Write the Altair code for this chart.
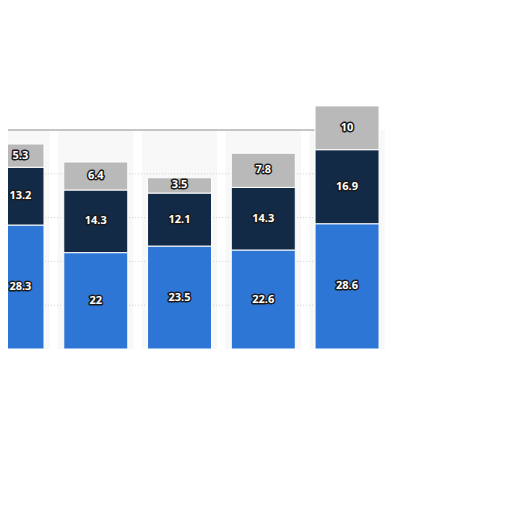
import altair as alt
import pandas as pd

categories = ["1", "2", "3", "4", "5"]
series = ["Series 1", "Series 2", "Series 3"]
s1 = [28.3, 22, 23.5, 22.6, 28.6]
s2 = [13.2, 14.3, 12.1, 14.3, 16.9]
s3 = [5.3, 6.4, 3.5, 7.8, 10]
colors = ["#2e76d6", "#122a45", "#b9b9b9"]
grid_values = [10, 20, 30, 40]
frame_value = 50

rows = []
for i, c in enumerate(categories):
    for k, (name, vals) in enumerate(zip(series, [s1, s2, s3])):
        rows.append({"cat": c, "idx": i, "series": name, "order": k, "value": vals[i]})
df = pd.DataFrame(rows)
cat_df = pd.DataFrame({"cat": categories, "idx": list(range(len(categories))),
                       "top": [frame_value] * len(categories)})

W, H = 496, 341
n = len(categories)
xscale = alt.Scale(domain=[-0.048, 5.874], nice=False, zero=False)
yscale = alt.Scale(domain=[0, 77.85], nice=False, zero=True)

base = (
    alt.Chart(df)
    .transform_stack(stack="value", groupby=["idx"], as_=["y0", "y1"],
                     sort=[alt.SortField("order", order="ascending")])
    .transform_calculate(xa="datum.idx - 0.382", xb="datum.idx + 0.382",
                         ym="(datum.y0 + datum.y1) / 2",
                         lx="max(datum.idx, 0.1)")
)

columns = alt.Chart(cat_df).transform_calculate(
    xa="datum.idx - 0.45", xb="datum.idx + 0.45"
).mark_rect(color="#f8f8f8", clip=True).encode(
    x=alt.X("xa:Q", scale=xscale, axis=None),
    x2="xb:Q",
    y=alt.Y("top:Q", scale=yscale, axis=None),
    y2=alt.datum(0),
)

bars = base.mark_bar(clip=True, stroke="white", strokeWidth=1).encode(
    x=alt.X("xa:Q", scale=xscale, axis=None),
    x2="xb:Q",
    y=alt.Y("y0:Q", scale=yscale, axis=None),
    y2="y1:Q",
    color=alt.Color("series:N", scale=alt.Scale(domain=series, range=colors), legend=None),
)

lab_enc = dict(
    x=alt.X("lx:Q", scale=xscale, axis=None),
    y=alt.Y("ym:Q", scale=yscale, axis=None),
    text=alt.Text("value:Q"),
)
labels_bg = base.mark_text(font="Open Sans", fontSize=11, fontWeight="bold",
                           stroke="#1a1a1a", strokeWidth=3, strokeJoin="round",
                           color="#1a1a1a").encode(**lab_enc)
labels_fg = base.mark_text(font="Open Sans", fontSize=11, fontWeight="bold",
                           color="white").encode(**lab_enc)

grid = alt.Chart(pd.DataFrame({"v": grid_values, "a": [-0.5] * len(grid_values),
                               "b": [n - 1 + 0.382] * len(grid_values)})).mark_rule(
    color="#cfcfcf", strokeDash=[1, 2], strokeWidth=1, clip=True
).encode(
    y=alt.Y("v:Q", scale=yscale, axis=None),
    x=alt.X("a:Q", scale=xscale, axis=None),
    x2="b:Q",
)

frame = alt.Chart(pd.DataFrame({"v": [frame_value], "a": [-0.5], "b": [n - 1 - 0.382]})).mark_rule(
    color="#b3b3b3", strokeWidth=1.5, clip=True
).encode(
    y=alt.Y("v:Q", scale=yscale, axis=None),
    x=alt.X("a:Q", scale=xscale, axis=None),
    x2="b:Q",
)

chart = (
    alt.layer(columns, grid, frame, bars, labels_bg, labels_fg)
    .properties(width=W, height=H, padding=0, autosize=alt.AutoSizeParams(type="none"))
    .configure_view(stroke=None)
)

chart.save("out.html", embed_options={"renderer": "svg", "actions": False})
